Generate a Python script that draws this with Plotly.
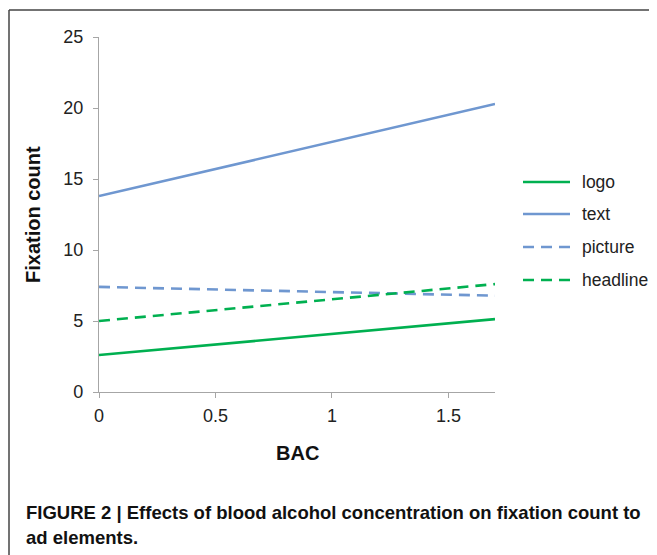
import plotly.graph_objects as go

bac = [0, 1.7]
logo = [2.6, 5.13]
text = [13.8, 20.28]
picture = [7.4, 6.78]
headline = [5.0, 7.6]

x_ticks = [0, 0.5, 1, 1.5]
x_tick_labels = ["0", "0.5", "1", "1.5"]
y_ticks = [0, 5, 10, 15, 20, 25]

GREEN = "#00b050"
BLUE = "#6f97d0"
DASH = "11px,7px"

OFF = 8  # page body margin
W, H = 657 - OFF, 555 - OFF
L, T = 99 - OFF, 37 - OFF
PW, PH = 495 - 99, 392 - 37
R, B = W - L - PW, H - T - PH

def px(x):
    return (x - OFF - L) / PW

def py(y):
    return (H - B - (y - OFF)) / PH

fig = go.Figure()
series = [
    ("logo", logo, GREEN, "solid"),
    ("text", text, BLUE, "solid"),
    ("picture", picture, BLUE, DASH),
    ("headline", headline, GREEN, DASH),
]
for name, vals, col, dash in series:
    fig.add_trace(go.Scatter(
        x=bac, y=vals, mode="lines", name=name,
        line=dict(color=col, width=2.6, dash=dash),
    ))

font_main = "Liberation Sans, Arial, sans-serif"
font_narrow = "Liberation Sans Narrow, Arial Narrow, Liberation Sans, sans-serif"

annotations = [
    dict(text="<b>Fixation count</b>", x=px(33), y=py(215), xref="paper", yref="paper",
         xanchor="center", yanchor="middle",
         textangle=-90, showarrow=False, font=dict(size=20, color="#111", family=font_main)),
    dict(text="<b>BAC</b>", x=px(297), y=py(453), xref="paper", yref="paper",
         xanchor="center", yanchor="middle",
         showarrow=False, font=dict(size=20, color="#111", family=font_main)),
    dict(text="<b>FIGURE 2 | Effects of blood alcohol concentration on fixation count to</b>",
         x=px(24), y=py(512), xref="paper", yref="paper", xanchor="left", yanchor="middle",
         showarrow=False, font=dict(size=18.5, color="#111", family=font_narrow)),
    dict(text="<b>ad elements.</b>",
         x=px(24), y=py(537), xref="paper", yref="paper", xanchor="left", yanchor="middle",
         showarrow=False, font=dict(size=18.5, color="#111", family=font_narrow)),
]
shapes = [
    dict(type="line", xref="paper", yref="paper", x0=px(9), x1=px(660), y0=py(10), y1=py(10),
         line=dict(color="#444", width=1.5)),
    dict(type="line", xref="paper", yref="paper", x0=px(9), x1=px(9), y0=py(10), y1=py(560),
         line=dict(color="#444", width=1.5)),
]

# legend drawn manually to match the reference placement
legend_y = [182, 214, 247, 280]
for (name, vals, col, dash), ly in zip(series, legend_y):
    shapes.append(dict(type="line", xref="paper", yref="paper",
                       x0=px(523), x1=px(570), y0=py(ly), y1=py(ly),
                       line=dict(color=col, width=2.6, dash=dash)))
    annotations.append(dict(text=name, x=px(580), y=py(ly), xref="paper", yref="paper",
                            xanchor="left", yanchor="middle", showarrow=False,
                            font=dict(size=17.5, color="#222", family=font_main)))

fig.update_layout(
    width=W, height=H,
    margin=dict(l=L, r=R, t=T, b=B, autoexpand=False),
    paper_bgcolor="white", plot_bgcolor="white",
    font=dict(family=font_main, color="#222", size=18),
    showlegend=False,
    xaxis=dict(
        range=[0, 1.7], tickvals=x_ticks, ticktext=x_tick_labels,
        showgrid=False, zeroline=False, showline=True, linecolor="#a6a6a6",
        linewidth=1.2, ticks="outside", ticklen=5, tickcolor="#a6a6a6",
        ticklabelstandoff=2,
        tickfont=dict(size=18, color="#222"), fixedrange=True,
    ),
    yaxis=dict(
        range=[0, 25], tickvals=y_ticks,
        showgrid=False, zeroline=False, showline=True, linecolor="#a6a6a6",
        linewidth=1.2, ticks="outside", ticklen=5, tickcolor="#a6a6a6",
        ticklabelstandoff=6,
        tickfont=dict(size=18, color="#222"), fixedrange=True,
    ),
    annotations=annotations,
    shapes=shapes,
)

fig.write_html("out.html")
